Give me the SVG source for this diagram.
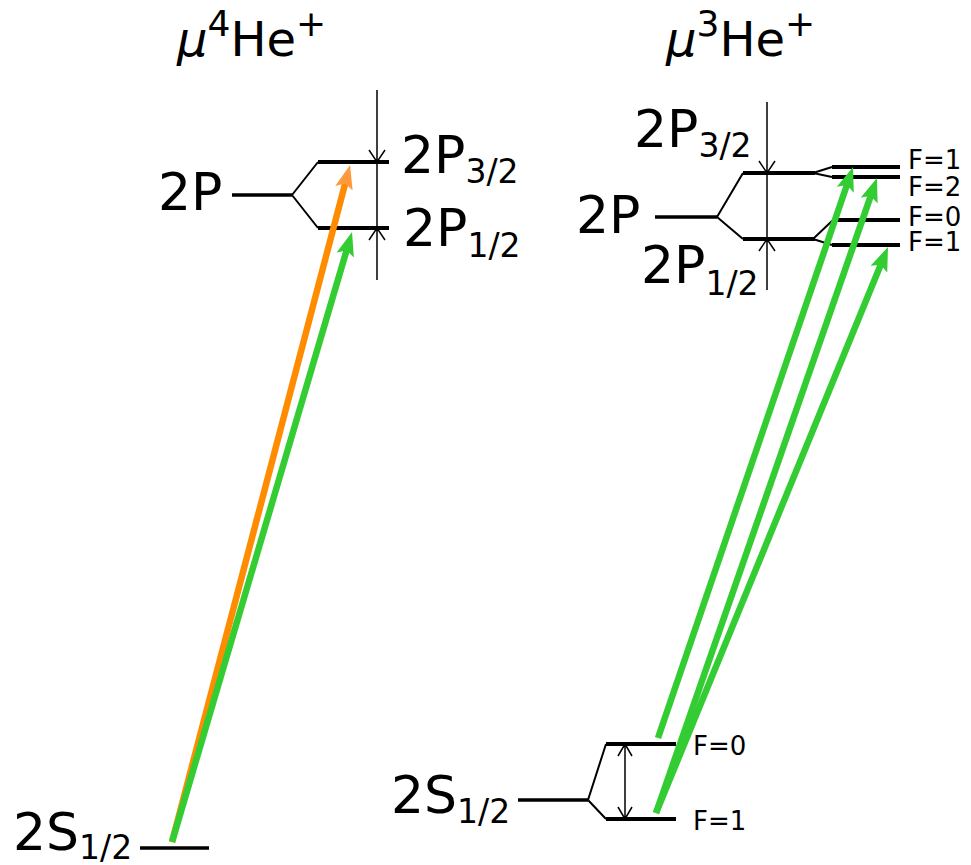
<svg xmlns="http://www.w3.org/2000/svg" width="971" height="865" viewBox="0 0 971 865">
<style>
text{font-family:"DejaVu Sans","Liberation Sans",sans-serif;fill:#000}
.big{font-size:52px}
.sub{font-size:33px}
.title{font-size:48px}
.sup{font-size:36px}
.f{font-size:26px}
.lvl{stroke:#000;stroke-width:4;fill:none}
.base{stroke:#000;stroke-width:3.5;fill:none}
.fork{stroke:#000;stroke-width:2;fill:none}
.dim{stroke:#000;stroke-width:1.5;fill:none}
.g{stroke:#33cc33;stroke-width:6.5;fill:none;marker-end:url(#hg)}
.o{stroke:#ff8c00;stroke-width:6.5;fill:none;marker-end:url(#ho)}
</style>
<defs>
<marker id="hg" viewBox="0 0 24 18" refX="14" refY="9" markerWidth="24" markerHeight="18" markerUnits="userSpaceOnUse" orient="auto">
<path d="M24,9 L0,0 L5,9 L0,18 z" fill="#33cc33"/>
</marker>
<marker id="ho" viewBox="0 0 24 18" refX="14" refY="9" markerWidth="24" markerHeight="18" markerUnits="userSpaceOnUse" orient="auto">
<path d="M24,9 L0,0 L5,9 L0,18 z" fill="#ff9a3c"/>
</marker>
</defs>

<g id="title-he4"><text class="title" x="177" y="56"><tspan font-style="italic">μ</tspan><tspan class="sup" dy="-20">4</tspan><tspan dy="20">He</tspan><tspan class="sup" dy="-20">+</tspan></text></g>
<g id="title-he3"><text class="title" x="666" y="56"><tspan font-style="italic">μ</tspan><tspan class="sup" dy="-20">3</tspan><tspan dy="20">He</tspan><tspan class="sup" dy="-20">+</tspan></text></g>

<!-- Left: mu4He+ -->
<g id="he4-2P">
<text class="big" x="158" y="210">2P</text>
<path class="base" d="M232,195 H292"/>
<path class="fork" d="M292,195 L318,162 M292,195 L318,228"/>
</g>
<g id="he4-2P32">
<path class="lvl" d="M318,162 H389"/>
<text class="big" x="401" y="173">2P<tspan class="sub" dy="10">3/2</tspan></text>
</g>
<g id="he4-2P12">
<path class="lvl" d="M318,228 H389"/>
<text class="big" x="403" y="246">2P<tspan class="sub" dy="11">1/2</tspan></text>
</g>
<g id="he4-2S">
<text class="big" x="13" y="850">2S<tspan class="sub" dy="9">1/2</tspan></text>
<path class="base" d="M140,848 H209"/>
</g>

<!-- Right: mu3He+ -->
<g id="he3-2P">
<text class="big" x="576" y="233">2P</text>
<path class="base" d="M655,217 H717"/>
<path class="fork" d="M717,217 L743,173 M717,217 L743,239"/>
</g>
<g id="he3-2P32">
<path class="lvl" d="M743,173 H815"/>
<text class="big" x="634" y="147">2P<tspan class="sub" dy="10">3/2</tspan></text>
<path class="fork" d="M813,173 L832,167 M813,173 L832,177"/>
</g>
<g id="he3-2P12">
<path class="lvl" d="M743,239 H815"/>
<text class="big" x="641" y="283">2P<tspan class="sub" dy="12">1/2</tspan></text>
<path class="fork" d="M813,239 L833,220 M813,239 L832,245"/>
</g>
<g id="he3-F1a"><path class="lvl" d="M832,167 H900"/><text class="f" x="908" y="169">F=1</text></g>
<g id="he3-F2"><path class="lvl" d="M832,177 H900"/><text class="f" x="908" y="196">F=2</text></g>
<g id="he3-F0"><path class="lvl" d="M833,220 H900"/><text class="f" x="908" y="226">F=0</text></g>
<g id="he3-F1b"><path class="lvl" d="M832,245 H900"/><text class="f" x="908" y="251">F=1</text></g>

<g id="he3-2S">
<text class="big" x="391" y="813">2S<tspan class="sub" dy="10">1/2</tspan></text>
<path class="base" d="M518,800 H588"/>
<path class="fork" d="M588,800 L606,744 M588,800 L606,819"/>
</g>
<g id="he3-2S-F0"><path class="lvl" d="M606,744 H676"/><text class="f" x="693" y="755">F=0</text></g>
<g id="he3-2S-F1"><path class="lvl" d="M606,819 H676"/><text class="f" x="693" y="830">F=1</text></g>

<g id="connectors">
<!-- dimension markers -->
<path class="dim" d="M377,90 V280 M369,150 L377,162 L385,150 M369,240 L377,228 L385,240"/>
<path class="dim" d="M767,102 V290 M759,161 L767,173 L775,161 M759,251 L767,239 L775,251"/>
<path class="dim" d="M625,744 V819 M618,756 L625,744 L632,756 M618,807 L625,819 L632,807"/>
<!-- transitions -->
<path class="o" d="M172,842 L347.5,174.7"/>
<path class="g" d="M172,842 L349.2,241.6"/>
<path class="g" d="M658,738 L849.8,176.5"/>
<path class="g" d="M656,813 L873.7,187.4"/>
<path class="g" d="M656,813 L884.2,256.3"/>
</g>
</svg>
